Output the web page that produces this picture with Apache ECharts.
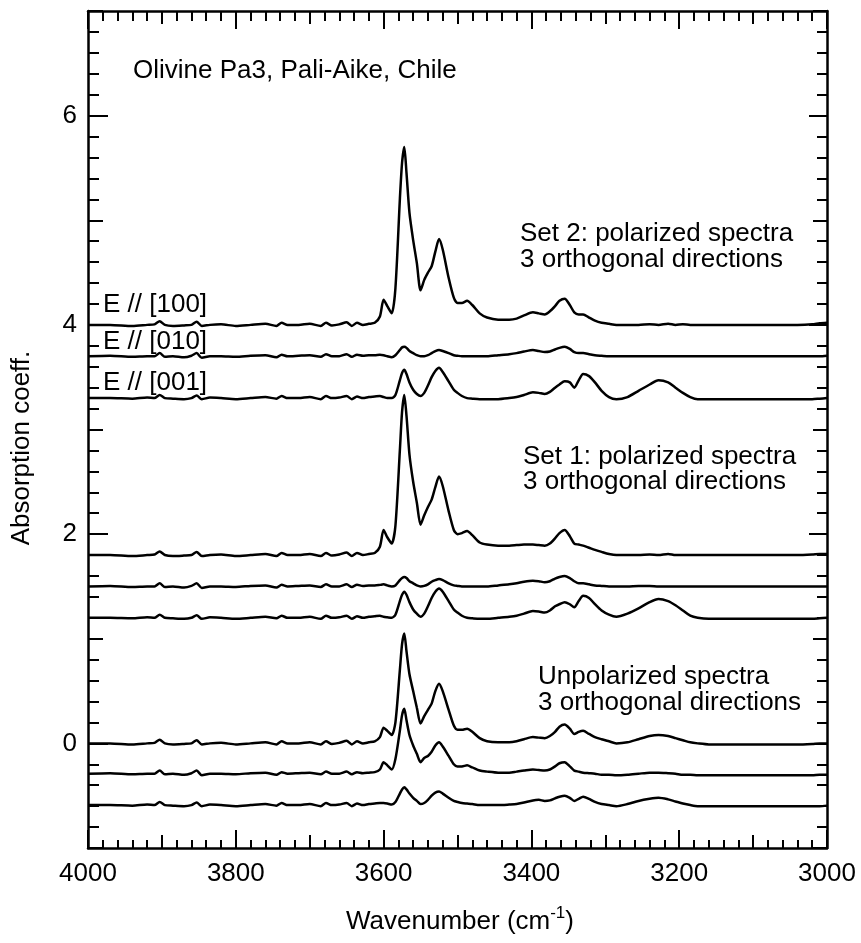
<!DOCTYPE html>
<html>
<head>
<meta charset="utf-8">
<script src="https://cdn.jsdelivr.net/npm/echarts@6/dist/echarts.min.js"></script>
<style>
  html, body { margin: 0; padding: 0; background: #fff; }
  #chart { width: 861px; height: 943px; }
</style>
</head>
<body>
<div id="chart"></div>
<script>
// Wavenumber grid (cm-1), shared by all spectra
const wavenumbers = [
  4000, 3970, 3940, 3920, 3910, 3903, 3896, 3885, 3870, 3860,
  3853, 3846, 3835, 3820, 3800, 3780, 3760, 3745, 3738, 3730,
  3715, 3700, 3685, 3678, 3670, 3660, 3650, 3643, 3636, 3628,
  3620, 3612, 3605,
  3600, 3595, 3589, 3584, 3578, 3575, 3572, 3569, 3565, 3560,
  3555, 3550, 3545, 3540, 3535, 3530, 3525, 3520, 3512, 3505,
  3500, 3494, 3487, 3480, 3470, 3460, 3445, 3430, 3420, 3410,
  3398, 3390, 3382, 3375, 3368, 3362, 3355, 3348, 3342, 3336,
  3330, 3322, 3314, 3305, 3295, 3285, 3270, 3255, 3240, 3228,
  3215, 3205, 3195, 3185, 3175, 3160, 3140, 3120, 3100, 3080,
  3060, 3040, 3020, 3010, 3000
];

// Set 2: polarized spectra (offset vertically)
const set2E100 = [
  4.00, 4.00, 3.99, 4.00, 4.005, 4.035, 4.00, 3.99, 3.995, 4.00,
  4.03, 3.99, 4.00, 4.005, 3.99, 4.00, 4.01, 3.99, 4.02, 4.00,
  4.00, 4.01, 3.99, 4.02, 3.995, 4.005, 4.025, 3.99, 4.02, 4.00,
  4.01, 4.02, 4.08,
  4.24, 4.18, 4.11, 4.35, 5.20, 5.55, 5.70, 5.45, 5.07, 4.81,
  4.59, 4.33, 4.43, 4.50, 4.56, 4.70, 4.82, 4.72, 4.45, 4.26,
  4.21, 4.21, 4.23, 4.19, 4.11, 4.07, 4.05, 4.05, 4.06, 4.09,
  4.12, 4.11, 4.10, 4.13, 4.18, 4.23, 4.25, 4.19, 4.12, 4.10,
  4.10, 4.07, 4.04, 4.02, 4.01, 4.00, 4.00, 4.00, 4.005, 4.00,
  4.01, 4.00, 4.005, 4.00, 4.00, 4.00, 4.00, 4.00, 4.00, 4.00,
  4.00, 4.00, 4.005, 4.015, 4.02
];
const set2E010 = [
  3.70, 3.705, 3.695, 3.70, 3.70, 3.73, 3.695, 3.70, 3.69, 3.705,
  3.73, 3.685, 3.70, 3.70, 3.695, 3.705, 3.71, 3.69, 3.715, 3.70,
  3.705, 3.71, 3.695, 3.72, 3.70, 3.70, 3.72, 3.695, 3.715, 3.705,
  3.71, 3.71, 3.715,
  3.71, 3.70, 3.69, 3.71, 3.76, 3.785, 3.79, 3.78, 3.75, 3.73,
  3.71, 3.70, 3.70, 3.71, 3.73, 3.75, 3.76, 3.75, 3.73, 3.71,
  3.705, 3.70, 3.70, 3.70, 3.70, 3.70, 3.71, 3.72, 3.73, 3.745,
  3.76, 3.75, 3.74, 3.745, 3.765, 3.78, 3.79, 3.77, 3.74, 3.73,
  3.73, 3.72, 3.71, 3.705, 3.70, 3.70, 3.70, 3.70, 3.70, 3.70,
  3.70, 3.70, 3.70, 3.70, 3.70, 3.70, 3.70, 3.70, 3.70, 3.70,
  3.70, 3.70, 3.70, 3.70, 3.705
];
const set2E001 = [
  3.30, 3.30, 3.295, 3.305, 3.30, 3.33, 3.30, 3.295, 3.29, 3.30,
  3.325, 3.29, 3.305, 3.30, 3.29, 3.30, 3.31, 3.295, 3.32, 3.30,
  3.30, 3.31, 3.29, 3.32, 3.30, 3.305, 3.32, 3.29, 3.315, 3.30,
  3.31, 3.315, 3.32,
  3.31, 3.30, 3.30, 3.33, 3.47, 3.54, 3.57, 3.53, 3.45, 3.38,
  3.34, 3.32, 3.35, 3.42, 3.50, 3.56, 3.59, 3.55, 3.46, 3.38,
  3.35, 3.32, 3.30, 3.295, 3.29, 3.29, 3.29, 3.30, 3.31, 3.33,
  3.355, 3.35, 3.34, 3.36, 3.40, 3.43, 3.46, 3.45, 3.40, 3.47,
  3.53, 3.51, 3.45, 3.37, 3.31, 3.29, 3.31, 3.37, 3.43, 3.47,
  3.45, 3.40, 3.35, 3.31, 3.29, 3.29, 3.29, 3.29, 3.29, 3.29,
  3.29, 3.29, 3.29, 3.295, 3.30
];

// Set 1: polarized spectra
const set1A = [
  1.80, 1.80, 1.79, 1.80, 1.805, 1.835, 1.80, 1.79, 1.795, 1.80,
  1.83, 1.79, 1.80, 1.805, 1.79, 1.80, 1.81, 1.79, 1.82, 1.80,
  1.80, 1.81, 1.79, 1.82, 1.795, 1.805, 1.825, 1.79, 1.82, 1.80,
  1.81, 1.82, 1.88,
  2.04, 1.97, 1.91, 2.08, 2.80, 3.17, 3.33, 3.13, 2.76, 2.50,
  2.30, 2.09, 2.18, 2.26, 2.33, 2.45, 2.55, 2.46, 2.22, 2.04,
  2.00, 2.01, 2.03, 1.99, 1.92, 1.90, 1.89, 1.89, 1.895, 1.90,
  1.90, 1.895, 1.89, 1.91, 1.96, 2.01, 2.04, 1.98, 1.91, 1.90,
  1.89, 1.87, 1.85, 1.83, 1.81, 1.80, 1.80, 1.80, 1.805, 1.80,
  1.81, 1.80, 1.80, 1.80, 1.80, 1.80, 1.80, 1.80, 1.80, 1.80,
  1.80, 1.80, 1.805, 1.81, 1.81
];
const set1B = [
  1.50, 1.505, 1.495, 1.50, 1.50, 1.53, 1.495, 1.50, 1.49, 1.505,
  1.53, 1.485, 1.50, 1.50, 1.495, 1.505, 1.51, 1.49, 1.515, 1.50,
  1.505, 1.51, 1.495, 1.52, 1.50, 1.50, 1.52, 1.495, 1.515, 1.505,
  1.51, 1.51, 1.515,
  1.52, 1.51, 1.50, 1.51, 1.56, 1.58, 1.59, 1.58, 1.55, 1.53,
  1.51, 1.50, 1.505, 1.52, 1.545, 1.56, 1.57, 1.56, 1.53, 1.51,
  1.505, 1.50, 1.50, 1.50, 1.50, 1.50, 1.51, 1.52, 1.53, 1.545,
  1.555, 1.55, 1.54, 1.55, 1.575, 1.59, 1.60, 1.58, 1.55, 1.53,
  1.53, 1.52, 1.51, 1.505, 1.50, 1.50, 1.50, 1.505, 1.505, 1.50,
  1.50, 1.50, 1.50, 1.50, 1.50, 1.50, 1.50, 1.50, 1.50, 1.50,
  1.50, 1.50, 1.50, 1.50, 1.50
];
const set1C = [
  1.20, 1.20, 1.195, 1.205, 1.20, 1.23, 1.20, 1.195, 1.19, 1.20,
  1.225, 1.19, 1.205, 1.20, 1.19, 1.20, 1.21, 1.195, 1.22, 1.20,
  1.20, 1.21, 1.19, 1.22, 1.20, 1.205, 1.22, 1.19, 1.215, 1.20,
  1.21, 1.215, 1.22,
  1.21, 1.205, 1.20, 1.23, 1.36, 1.42, 1.45, 1.42, 1.35, 1.28,
  1.24, 1.21, 1.24, 1.31, 1.39, 1.45, 1.48, 1.45, 1.36, 1.28,
  1.25, 1.22, 1.20, 1.195, 1.19, 1.19, 1.20, 1.21, 1.22, 1.24,
  1.265, 1.26, 1.25, 1.27, 1.31, 1.33, 1.35, 1.33, 1.30, 1.36,
  1.41, 1.39, 1.33, 1.27, 1.23, 1.21, 1.24, 1.29, 1.35, 1.38,
  1.36, 1.32, 1.27, 1.22, 1.20, 1.19, 1.19, 1.19, 1.19, 1.19,
  1.19, 1.19, 1.19, 1.195, 1.20
];

// Unpolarized spectra
const unpolA = [
  0.00, 0.00, -0.01, 0.00, 0.005, 0.035, 0.00, -0.01, -0.005, 0.00,
  0.03, -0.01, 0.00, 0.005, -0.01, 0.00, 0.01, -0.01, 0.02, 0.00,
  0.00, 0.01, -0.01, 0.02, -0.005, 0.005, 0.025, -0.01, 0.02, 0.00,
  0.01, 0.02, 0.06,
  0.15, 0.12, 0.08, 0.20, 0.70, 0.95, 1.05, 0.88, 0.66, 0.50,
  0.34, 0.19, 0.26, 0.32, 0.38, 0.50, 0.57, 0.50, 0.32, 0.17,
  0.13, 0.13, 0.14, 0.11, 0.05, 0.02, 0.01, 0.01, 0.02, 0.04,
  0.06, 0.055, 0.05, 0.07, 0.11, 0.16, 0.18, 0.14, 0.09, 0.11,
  0.12, 0.09, 0.06, 0.04, 0.02, 0.00, 0.01, 0.04, 0.07, 0.08,
  0.07, 0.05, 0.03, 0.01, 0.00, -0.01, -0.01, -0.01, -0.01, -0.01,
  -0.01, -0.01, -0.005, 0.00, 0.00
];
const unpolB = [
  -0.29, -0.285, -0.295, -0.29, -0.29, -0.26, -0.295, -0.29, -0.30, -0.285,
  -0.26, -0.305, -0.29, -0.29, -0.295, -0.285, -0.28, -0.30, -0.275, -0.29,
  -0.285, -0.28, -0.295, -0.27, -0.29, -0.29, -0.27, -0.295, -0.275, -0.285,
  -0.28, -0.275, -0.25,
  -0.18, -0.21, -0.25, -0.15, 0.12, 0.27, 0.33, 0.22, 0.08, -0.02,
  -0.10, -0.18, -0.14, -0.12, -0.08, -0.02, 0.01, -0.03, -0.12, -0.20,
  -0.22, -0.22, -0.21, -0.23, -0.26, -0.27, -0.28, -0.28, -0.27, -0.26,
  -0.25, -0.255, -0.26, -0.25, -0.22, -0.19, -0.18, -0.22, -0.26, -0.27,
  -0.28, -0.285, -0.29, -0.30, -0.30, -0.305, -0.30, -0.29, -0.28, -0.28,
  -0.285, -0.29, -0.30, -0.30, -0.305, -0.305, -0.305, -0.305, -0.305, -0.305,
  -0.305, -0.305, -0.305, -0.30, -0.30
];
const unpolC = [
  -0.59, -0.59, -0.595, -0.585, -0.59, -0.56, -0.59, -0.595, -0.60, -0.59,
  -0.565, -0.60, -0.585, -0.59, -0.60, -0.59, -0.58, -0.595, -0.57, -0.59,
  -0.59, -0.58, -0.60, -0.57, -0.59, -0.585, -0.57, -0.60, -0.575, -0.59,
  -0.58, -0.575, -0.57,
  -0.57, -0.575, -0.585, -0.56, -0.48, -0.44, -0.42, -0.44, -0.48, -0.52,
  -0.55, -0.58, -0.57, -0.54, -0.50, -0.47, -0.46, -0.48, -0.52, -0.55,
  -0.56, -0.57, -0.575, -0.58, -0.59, -0.59, -0.59, -0.585, -0.58, -0.565,
  -0.545, -0.54, -0.55, -0.545, -0.525, -0.51, -0.50, -0.52, -0.55, -0.53,
  -0.51, -0.53, -0.56, -0.58, -0.59, -0.60, -0.58, -0.55, -0.53, -0.52,
  -0.535, -0.555, -0.575, -0.59, -0.60, -0.60, -0.60, -0.60, -0.60, -0.60,
  -0.60, -0.60, -0.60, -0.60, -0.595
];

const spectra = [set2E100, set2E010, set2E001, set1A, set1B, set1C, unpolA, unpolB, unpolC];

// Major y ticks carrying labels
const yLabelValues = [0, 2, 4, 6];

const FONT_FAMILY = '"Liberation Sans", Arial, Helvetica, sans-serif';
const FS = 26;

const lineCol = '#000';
const frameLine = { color: lineCol, width: 2.5 };
const tickLine = { color: lineCol, width: 2 };

function xAxisDef(position, interval, tickLen, opts) {
  return {
    type: 'value', position, min: 3000, max: 4000, inverse: true, interval,
    axisLine: { show: !!opts.line, onZero: false, lineStyle: frameLine },
    axisTick: { show: true, inside: true, length: tickLen, lineStyle: tickLine },
    minorTick: { show: !!opts.minor, splitNumber: 10, length: opts.minorLen || 9, lineStyle: tickLine },
    axisLabel: opts.labels
      ? { show: true, color: '#000', fontSize: FS, fontFamily: FONT_FAMILY, margin: 13, formatter: (v) => String(v) }
      : { show: false },
    splitLine: { show: false }, minorSplitLine: { show: false }
  };
}
function yAxisDef(position, tickLen, opts) {
  const ax = {
    type: 'value', position, min: -1, max: 7, interval: 1,
    axisLine: { show: !!opts.line, onZero: false, lineStyle: frameLine },
    axisTick: { show: true, inside: true, length: tickLen, lineStyle: tickLine },
    minorTick: { show: !!opts.minor, splitNumber: 5, length: opts.minorLen || 10, lineStyle: tickLine },
    axisLabel: { show: false },
    splitLine: { show: false }, minorSplitLine: { show: false }
  };
  if (opts.major) ax.axisTick.customValues = yLabelValues;
  if (opts.labels) {
    ax.axisLabel = {
      show: true, customValues: yLabelValues, color: '#000', fontSize: FS, fontFamily: FONT_FAMILY,
      margin: 11, formatter: (v) => String(v)
    };
  }
  return ax;
}

const chart = echarts.init(document.getElementById('chart'), null, { renderer: 'canvas' });

const label = (text, x, y, align) => ({
  type: 'text', x, y, z: 100,
  style: {
    text, fill: '#000', font: FS + 'px ' + FONT_FAMILY,
    textAlign: align || 'left', align: align || 'left',
    textVerticalAlign: 'middle', verticalAlign: 'middle'
  }
});

chart.setOption({
  animation: false,
  backgroundColor: '#fff',
  grid: { left: 88, right: 34, top: 11, bottom: 95, containLabel: false },
  xAxis: [
    xAxisDef('bottom', 200, 18, { line: true, labels: true, minor: true, minorLen: 8 }),
    xAxisDef('bottom', 100, 13, {}),
    xAxisDef('top', 200, 18, { line: true, minor: true, minorLen: 10 }),
    xAxisDef('top', 100, 13, {})
  ],
  yAxis: [
    yAxisDef('left', 15, { line: true, minor: true, minorLen: 11, labels: true }),
    yAxisDef('left', 20, { major: true }),
    yAxisDef('right', 14, { line: true, minor: true, minorLen: 10 }),
    yAxisDef('right', 18, { major: true })
  ],
  series: spectra.map((vals) => ({
    type: 'line',
    xAxisIndex: 0, yAxisIndex: 0,
    data: wavenumbers.map((w, i) => [w, vals[i]]),
    showSymbol: false, symbol: 'none',
    smooth: 0.25,
    lineStyle: { color: lineCol, width: 2.5 },
    z: 3
  })),
  graphic: {
    elements: [
      label('Olivine Pa3, Pali-Aike, Chile', 133, 71),
      label('Set 2: polarized spectra', 520, 234),
      label('3 orthogonal directions', 520, 260),
      label('Set 1: polarized spectra', 523, 457),
      label('3 orthogonal directions', 523, 482),
      label('Unpolarized spectra', 538, 677),
      label('3 orthogonal directions', 538, 703),
      label('E // [100]', 103, 305),
      label('E // [010]', 103, 342),
      label('E // [001]', 103, 383),
      {
        type: 'text', x: 22, y: 448, rotation: Math.PI / 2, z: 100,
        style: {
          text: 'Absorption coeff.', fill: '#000', font: FS + 'px ' + FONT_FAMILY,
          textAlign: 'center', align: 'center', textVerticalAlign: 'middle', verticalAlign: 'middle'
        }
      },
      {
        type: 'text', x: 460, y: 920, z: 100,
        style: {
          text: '{a|Wavenumber (cm}{s|-1}{a|)}',
          fill: '#000',
          textAlign: 'center', align: 'center', textVerticalAlign: 'middle', verticalAlign: 'middle',
          rich: {
            a: { fontSize: FS, fontFamily: FONT_FAMILY, lineHeight: 30, verticalAlign: 'bottom', fill: '#000' },
            s: { fontSize: 17, fontFamily: FONT_FAMILY, lineHeight: 16, verticalAlign: 'top', fill: '#000' }
          }
        }
      }
    ]
  }
});
</script>
</body>
</html>
